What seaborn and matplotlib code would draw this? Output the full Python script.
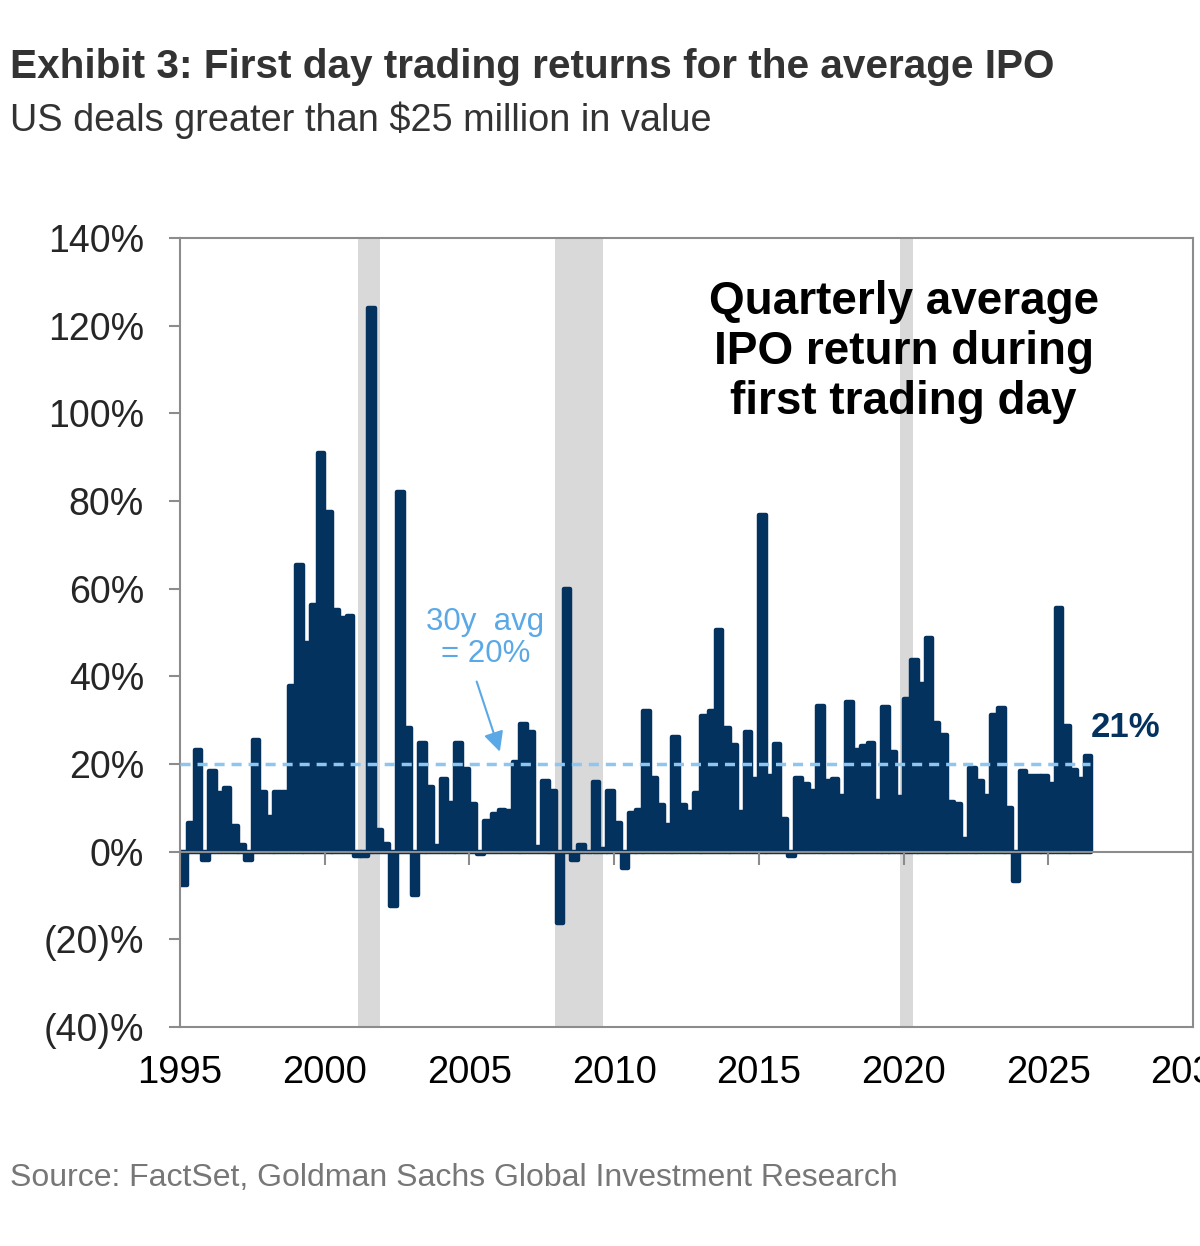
import pandas as pd
import seaborn as sns
import matplotlib.pyplot as plt

sns.set_theme(style='white')
plt.rcParams['font.family'] = ['Liberation Sans', 'DejaVu Sans']

# %%
# quarterly average first-day IPO return (%), 1995Q1 .. 2026Q2
returns = [
    -7.5, 6.6, 23.2, -2.0, 18.3, 13.4, 14.6, 5.8, 1.6, -1.8,
    25.5, 13.7, 8.0, 13.7, 13.5, 37.7, 65.4, 47.6, 56.3, 91.0,
    77.5, 55.2, 53.3, 53.8, -1.0, -1.0, 124.0, 4.9, 1.7, -12.3,
    82.0, 28.2, -10.0, 24.7, 14.7, 1.2, 16.6, 11.0, 24.7, 18.9,
    10.8, -0.5, 7.0, 8.5, 9.6, 9.2, 20.5, 29.2, 27.3, 1.0,
    16.0, 13.8, -16.3, 60.0, -2.0, 1.5, 0.0, 15.8, 0.5, 13.8,
    6.5, -3.8, 8.7, 9.5, 32.0, 16.9, 10.7, 6.0, 26.2, 10.7,
    9.1, 13.4, 31.0, 32.0, 50.6, 28.2, 24.3, 9.0, 27.4, 16.5,
    76.8, 17.3, 24.5, 7.5, -1.0, 16.9, 15.4, 13.9, 33.3, 16.1,
    16.5, 12.7, 34.1, 23.2, 24.0, 24.7, 11.6, 33.0, 22.8, 12.4,
    34.8, 43.8, 38.2, 48.8, 29.3, 26.7, 11.3, 10.8, 2.8, 19.0,
    16.0, 12.7, 31.2, 32.7, 10.0, -6.7, 18.3, 17.2, 17.3, 17.3,
    15.5, 55.6, 28.6, 18.7, 16.6, 21.8,
]
quarters = pd.period_range('1995Q1', periods=len(returns), freq='Q')

avg_30y = 20
last_value = '21%'

# recession shading (start, end) in fractional years
rec_start = [2001.14, 2007.97, 2019.86]
rec_end = [2001.90, 2009.62, 2020.34]

year_ticks = [1995, 2000, 2005, 2010, 2015, 2020, 2025, 2030]
pct_ticks = [-40, -20, 0, 20, 40, 60, 80, 100, 120, 140]
pct_labels = ['(40)%', '(20)%', '0%', '20%', '40%', '60%', '80%', '100%', '120%', '140%']

NAVY = '#03325f'
LIGHT_BLUE = '#5aa9e6'
GREY = '#8c8c8c'

# %%
df = pd.DataFrame({
    'date': [q.year + (q.quarter - 1) / 4 + 0.125 for q in quarters],
    'ret': returns,
})

fig = plt.figure(figsize=(12, 12.46), dpi=100)
ax = fig.add_axes([0.15, 0.1758, 0.8442, 0.6332])

for s, e in zip(rec_start, rec_end):
    ax.axvspan(s, e, color='#d9d9d9', lw=0, zorder=0)

# thick round-joined outline gives the merged, rounded look of the original
sns.barplot(data=df, x='date', y='ret', native_scale=True, width=0.9,
            color=NAVY, edgecolor=NAVY, linewidth=3.2, saturation=1,
            joinstyle='round', errorbar=None, ax=ax, zorder=2)

# zero line with the little year ticks hanging off it
ax.axhline(0, color=GREY, lw=1.5, zorder=3)
ax.vlines(year_ticks, -3, 0, color=GREY, lw=1.5, zorder=3)

# 30y average
ax.plot([1995, 2026.45], [avg_30y, avg_30y], ls=(0, (2.9, 2)),
        color='#8fc6ef', lw=2.5, zorder=4)

ax.set_xlim(1995, 2030)
ax.set_ylim(-40, 140)
ax.set_xticks(year_ticks)
ax.set_xticklabels([str(y) for y in year_ticks], fontsize=27.5)
ax.set_yticks(pct_ticks)
ax.set_yticklabels(pct_labels, fontsize=27)
ax.tick_params(axis='x', length=0, pad=20, colors='black')
ax.tick_params(axis='y', left=True, length=8, width=1.5, color=GREY, pad=18)
ax.set_xlabel('')
ax.set_ylabel('')
for sp in ax.spines.values():
    sp.set_color(GREY)
    sp.set_linewidth(1.5)
    sp.set_visible(True)

# %%
ax.text(2020.0, 114, 'Quarterly average\nIPO return during\nfirst trading day',
        ha='center', va='center', fontsize=33, fontweight='bold',
        color='black', linespacing=1.18, zorder=5)

ax.text(2005.55, 48.7, '30y  avg\n= 20%', ha='center', va='center',
        fontsize=22.5, color=LIGHT_BLUE, linespacing=1.1, zorder=5)
ax.annotate('', xy=(2006.05, 22.8), xytext=(2005.25, 38.8),
            arrowprops=dict(arrowstyle='-|>', color=LIGHT_BLUE, lw=1.5,
                            mutation_scale=30, shrinkA=0, shrinkB=0),
            zorder=5)

ax.text(2026.45, 28.3, last_value, ha='left', va='center', fontsize=25,
        fontweight='bold', color=NAVY, zorder=5)

fig.text(0.008, 1 - 67 / 1246, 'Exhibit 3: First day trading returns for the average IPO',
         fontsize=29.2, fontweight='bold', color='#333333', va='center', ha='left')
fig.text(0.008, 1 - 120 / 1246, 'US deals greater than $25 million in value',
         fontsize=27.3, color='#333333', va='center', ha='left')
fig.text(0.008, 1 - 1178 / 1246, 'Source: FactSet, Goldman Sachs Global Investment Research',
         fontsize=23, color='#777777', va='center', ha='left')

fig.savefig('out.png', dpi=100)
